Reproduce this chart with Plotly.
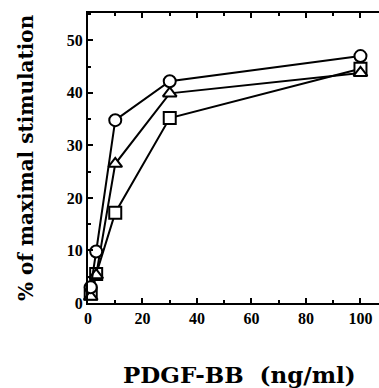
import plotly.graph_objects as go

dose = [1, 3, 10, 30, 100]
circle_vals = [3.0, 9.8, 34.8, 42.2, 47.0]
triangle_vals = [1.2, 5.3, 26.5, 39.9, 43.8]
square_vals = [1.8, 5.5, 17.2, 35.2, 44.6]

x_ticks = [0, 20, 40, 60, 80, 100]
y_ticks = [0, 10, 20, 30, 40, 50]

x_title = "PDGF-BB  (ng/ml)"
y_title = "% of maximal stimulation"

tick_font = "Liberation Serif"
title_font = "DejaVu Serif"

fig = go.Figure()
series = [
    (square_vals, "square"),
    (triangle_vals, "triangle-up"),
    (circle_vals, "circle"),
]
for vals, sym in series:
    fig.add_trace(go.Scatter(
        x=dose, y=vals, mode="lines+markers",
        line=dict(color="black", width=2),
        marker=dict(symbol=sym, size=12, color="white",
                    line=dict(color="black", width=2)),
        showlegend=False, cliponaxis=False,
    ))

fig.update_layout(
    width=379, height=388,
    margin=dict(l=88, r=0, t=13, b=85, autoexpand=False),
    paper_bgcolor="white", plot_bgcolor="white",
    font=dict(family=tick_font, color="black"),
    xaxis=dict(
        range=[0, 106.8], tickvals=x_ticks, ticks="inside", ticklen=5,
        tickwidth=1.5, tickcolor="black", showline=True, linecolor="black",
        linewidth=2, mirror="ticks", showgrid=False, zeroline=False,
        automargin=False,
        tickfont=dict(family=tick_font, size=16, color="black", weight="bold"),
        minor=dict(dtick=10, ticks="inside", ticklen=3, tickcolor="black", tickwidth=1.5),
    ),
    yaxis=dict(
        range=[0, 55.2], tickvals=y_ticks, ticks="inside", ticklen=5,
        tickwidth=1.5, tickcolor="black", showline=True, linecolor="black",
        linewidth=2, showgrid=False, zeroline=False,
        automargin=False,
        tickfont=dict(family=tick_font, size=16, color="black", weight="bold"),
        minor=dict(dtick=5, ticks="inside", ticklen=3, tickcolor="black", tickwidth=1.5),
    ),
    annotations=[
        dict(text="<b>" + x_title + "</b>", xref="paper", yref="paper",
             x=0.522, y=-0.245, xanchor="center", yanchor="middle",
             showarrow=False, font=dict(family=title_font, size=23, color="black")),
        dict(text="<b>" + y_title + "</b>", xref="paper", yref="paper",
             x=-0.213, y=0.5, xanchor="center", yanchor="middle", textangle=-90,
             showarrow=False, font=dict(family=title_font, size=20, color="black")),
    ],
)

fig.write_html(
    "out.html",
    config={"displayModeBar": False},
    post_script="document.body.style.margin='0px';document.body.style.overflow='hidden';",
)
